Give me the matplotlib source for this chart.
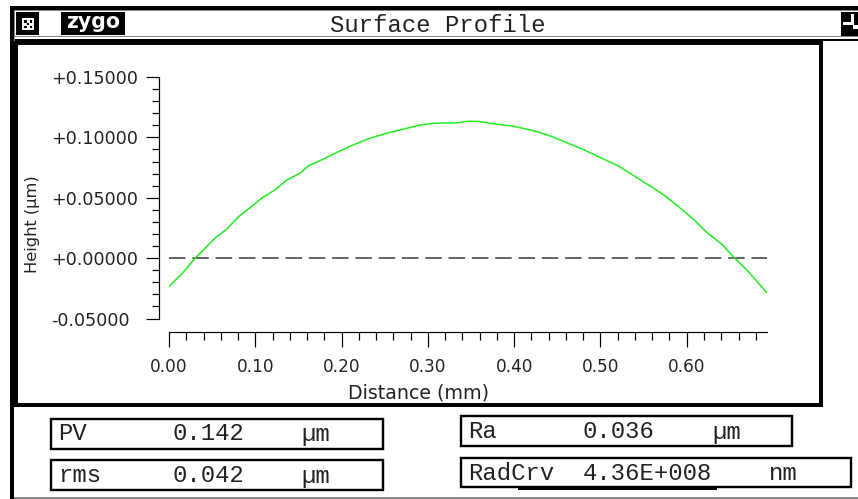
import matplotlib
matplotlib.use("Agg")
import matplotlib.pyplot as plt
from matplotlib.patches import Rectangle
from matplotlib.ticker import MultipleLocator

# profile
distance = [0.0, 0.0147, 0.0301, 0.0397, 0.0533, 0.0669, 0.0803, 0.0977, 0.1074, 0.1228,
            0.1364, 0.1518, 0.1614, 0.1769, 0.1943, 0.2136, 0.2329, 0.2523, 0.2715, 0.2908,
            0.3102, 0.3334, 0.3468, 0.3584, 0.3797, 0.3971, 0.4145, 0.4279, 0.4435, 0.4647,
            0.4820, 0.4994, 0.5206, 0.5419, 0.5632, 0.5747, 0.5901, 0.6075, 0.6231, 0.6405,
            0.6547, 0.6694, 0.6926]
height = [-0.0234, -0.0132, -0.0002, 0.0066, 0.0166, 0.0240, 0.0342, 0.0439, 0.0497, 0.0565,
          0.0646, 0.0704, 0.0764, 0.0814, 0.0875, 0.0938, 0.0993, 0.1035, 0.1068, 0.1103,
          0.1118, 0.1120, 0.1134, 0.1132, 0.1109, 0.1095, 0.1068, 0.1046, 0.1007, 0.0944,
          0.0894, 0.0834, 0.0764, 0.0668, 0.0571, 0.0516, 0.0428, 0.0323, 0.0213, 0.0116,
          0.0006, -0.0097, -0.0284]
zero_x = [0.0, 0.693]
zero_y = [0.0, 0.0]

x_ticks = [0.0, 0.1, 0.2, 0.3, 0.4, 0.5, 0.6]
x_labels = ["0.00", "0.10", "0.20", "0.30", "0.40", "0.50", "0.60"]
y_ticks = [-0.05, 0.0, 0.05, 0.10, 0.15]
y_labels = ["-0.05000", "+0.00000", "+0.05000", "+0.10000", "+0.15000"]

W, H = 858, 499
MONO = "Liberation Mono"
SANS = "DejaVu Sans"
INK = "#222222"
PX = 0.72  # points per pixel at dpi 100

fig = plt.figure(figsize=(W / 100, H / 100), dpi=100, facecolor="white")

# window chrome is laid out in pixels
bg = fig.add_axes([0, 0, 1, 1])
bg.set_xlim(0, W)
bg.set_ylim(H, 0)
bg.axis("off")


def block(x0, y0, x1, y1, color="black"):
    bg.add_patch(Rectangle((x0, y0), x1 - x0, y1 - y0, fc=color, ec="none"))


def box(x0, y0, x1, y1):
    bg.add_patch(Rectangle((x0, y0), x1 - x0, y1 - y0, fc="white", ec="black", lw=2.4 * PX))


block(10, 6, W, 10)
block(10, 6, 14, H)
block(14, 10, W, 11, "#888888")
block(14, 10, 15, 41, "#888888")
block(15, 36, W, 37, "#888888")
block(15, 39, W, 41)
block(10, 41, 823, 45)
block(10, 41, 18, 407)
block(819, 41, 823, 407)
block(10, 403, 823, 407)
block(14, 497, W, 498.5, "#888888")

# title bar icons
block(16, 12, 39, 35)
block(22, 18, 34, 30, "white")
for dx, dy in [(24, 20), (29.5, 20), (26.8, 22.8), (24, 25.5), (29.5, 25.5)]:
    block(dx, dy, dx + 2.6, dy + 2.6)
block(61, 12, 125, 35)
bg.text(93, 22, "zygo", color="white", family=SANS, weight="bold", fontsize=14.8,
        ha="center", va="center")
block(841, 12, W, 36)
block(843, 22, 854, 25, "white")
block(851, 14, 854, 25, "white")
block(853, 25, W, 29, "white")

bg.text(438, 25, "Surface Profile", family=MONO, fontsize=17.2, ha="center", va="center",
        color=INK)

# stat boxes
block(518, 486, 717, 490)
box(51, 419, 383, 449)
box(51, 460, 383, 490)
box(461, 416, 792, 446)
box(461, 458, 851, 487)

stats = [("PV", "0.142", "µm", 58, 173, 301, 434),
         ("rms", "0.042", "µm", 58, 173, 301, 476),
         ("Ra", "0.036", "µm", 468, 583, 712, 432),
         ("RadCrv", "4.36E+008", "nm", 468, 583, 769, 473)]
for name, value, unit, xa, xb, xc, yy in stats:
    bg.text(xa, yy, name, family=MONO, fontsize=17.2, va="center", color=INK)
    bg.text(xb, yy, value, family=MONO, fontsize=17.2, va="center", color=INK)
    bg.text(xc, yy, unit, family=MONO, fontsize=17.2, va="center", color=INK)

# the plot itself
ax = fig.add_axes([169 / W, 1 - 318.5 / H, (767 - 169) / W, (318.5 - 77) / H])
ax.patch.set_alpha(0)
ax.plot(zero_x, zero_y, color="#444444", lw=1.6 * PX, dashes=(16.5 / 1.6, 6.8 / 1.6))
ax.plot(distance, height, color="#1ef01e", lw=1.5 * PX)
ax.set_xlim(0, 0.693)
ax.set_ylim(-0.05, 0.15)

ax.spines["top"].set_visible(False)
ax.spines["right"].set_visible(False)
ax.spines["left"].set_position(("outward", 9.7 * PX))
ax.spines["bottom"].set_position(("outward", 13.2 * PX))
ax.spines["left"].set_linewidth(1.2 * PX)
ax.spines["bottom"].set_linewidth(1.2 * PX)

ax.set_xticks(x_ticks)
ax.set_xticklabels(x_labels, family=SANS, fontsize=12.2, color=INK)
ax.set_yticks(y_ticks)
ax.set_yticklabels(y_labels, family=SANS, fontsize=12.6, color=INK, ha="left")
ax.xaxis.set_minor_locator(MultipleLocator(0.02))
ax.yaxis.set_minor_locator(MultipleLocator(0.01))
ax.tick_params(axis="x", which="major", length=15 * PX, width=1.2 * PX, pad=11.5 * PX)
ax.tick_params(axis="x", which="minor", length=8 * PX, width=1.2 * PX)
ax.tick_params(axis="y", which="major", length=13 * PX, width=1.2 * PX, pad=95 * PX)
ax.tick_params(axis="y", which="minor", length=7 * PX, width=1.2 * PX)

bg.text(418, 393, "Distance (mm)", family=SANS, fontsize=13.7, ha="center", va="center",
        color=INK)
bg.text(32, 224, "Height (µm)", family=SANS, fontsize=11.7, rotation=90, ha="center",
        va="center", color=INK)

fig.savefig("out.png", dpi=100)
